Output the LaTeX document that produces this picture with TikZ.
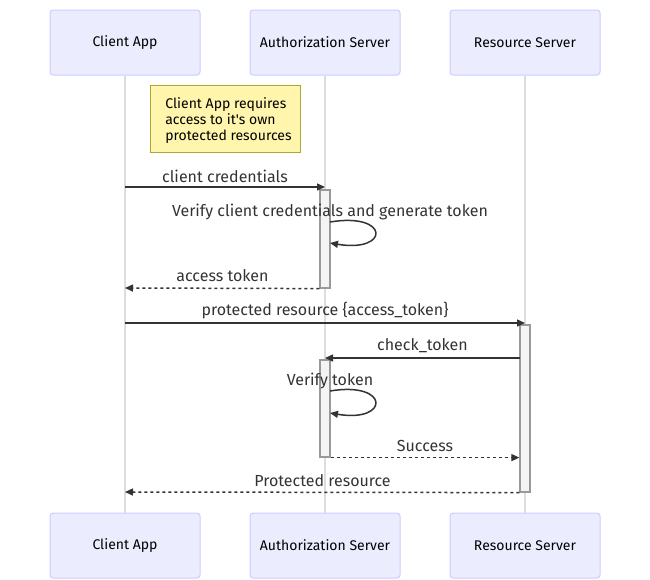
\documentclass[tikz,border=0pt]{standalone}
\usepackage{fontspec}
\setmainfont{Fira Sans}
\usetikzlibrary{arrows.meta}
\definecolor{actfill}{HTML}{ECECFF}
\definecolor{actdraw}{HTML}{CCCCFF}
\definecolor{notefill}{HTML}{FFF5AD}
\definecolor{notedraw}{HTML}{AAAA33}
\definecolor{txt}{HTML}{333333}
\definecolor{life}{HTML}{DDDDDD}
\definecolor{actvfill}{HTML}{F4F4F4}
\definecolor{actvdraw}{HTML}{999999}
\begin{document}
\begin{tikzpicture}[x=1pt,y=-1pt,
  actor/.style={draw=actdraw, fill=actfill, line width=1pt, rounded corners=3pt,
    minimum width=150pt, minimum height=65pt, inner sep=0pt,
    font=\fontsize{14}{16}\selectfont, text=black},
  notebox/.style={draw=notedraw, fill=notefill, line width=1pt,
    minimum width=150pt, minimum height=67pt, inner sep=0pt},
  notetext/.style={align=left, inner sep=0pt,
    font=\fontsize{14}{16}\selectfont, text=black},
  activ/.style={draw=actvdraw, fill=actvfill, line width=1.2pt,
    minimum width=10pt, inner sep=0pt},
  lifeline/.style={draw=life, line width=1.5pt},
  msg/.style={draw=txt, line width=1.5pt, -{Triangle[length=8pt,width=7pt]}},
  reply/.style={msg, dash pattern=on 3pt off 3pt},
  lbl/.style={font=\fontsize{16}{18}\selectfont, text=txt, inner sep=0pt}
]
\useasboundingbox (0,0) rectangle (650,579);

% actors
\node[actor] (ca)  at (125,42.5) {\raisebox{-1pt}{Client App}};
\node[actor] (as)  at (325,42.5) {\raisebox{-1pt}{Authorization Server}};
\node[actor] (rs)  at (525,42.5) {\raisebox{-1pt}{Resource Server}};
\node[actor] (cab) at (125,545.5) {\raisebox{-1pt}{Client App}};
\node[actor] (asb) at (325,545.5) {\raisebox{-1pt}{Authorization Server}};
\node[actor] (rsb) at (525,545.5) {\raisebox{-1pt}{Resource Server}};

% lifelines
\draw[lifeline] (ca.south) -- (cab.north);
\draw[lifeline] (as.south) -- (asb.north);
\draw[lifeline] (rs.south) -- (rsb.north);

% note
\node[notebox, label={[notetext, xshift=3.5pt, yshift=-2.5pt]center:{Client App requires\\access to it\textquotesingle s own\\protected resources}}] (note) at (225,118.5) {};

% activations
\node[activ, minimum height=98pt]  (act1) at (325,239) {};
\node[activ, minimum height=167pt] (act2) at (525,408.5) {};
\node[activ, minimum height=97pt]  (act3) at (325,408.5) {};

% message endpoints
\coordinate (m1s) at (125,187);
\coordinate (m1e) at (325,187);
\coordinate (l1s) at (330,222);
\coordinate (l1e) at (330,243);
\coordinate (m3e) at (125,288);
\coordinate (m4s) at (125,323);
\coordinate (m4e) at (525,323);
\coordinate (m5s) at (520,358);
\coordinate (m5e) at (325,358);
\coordinate (l2s) at (330,391);
\coordinate (l2e) at (330,413);
\coordinate (m8e) at (125,492);

% messages
\draw[msg] (m1s) -- (m1e);
\node[lbl] (t1) at (225,176) {client credentials};

\draw[msg] (l1s) .. controls (390,212) and (390,253) .. (l1e);
\node[lbl] (t2) at (330,212) {Verify client credentials and generate token};

\draw[reply] (act1.south west) -- (m3e);
\node[lbl] (t3) at (222.5,276) {access token};

\draw[msg] (m4s) -- (m4e);
\node[lbl] (t4) at (325,311) {protected resource \{access\_token\}};

\draw[msg] (m5s) -- (m5e);
\node[lbl] (t5) at (422.5,346) {check\_token};

\draw[msg] (l2s) .. controls (390,381) and (390,423) .. (l2e);
\node[lbl] (t6) at (330,381) {Verify token};

\draw[reply] (act3.south east) -- (act2.west |- act3.south east);
\node[lbl] (t7) at (425,446) {Success};

\draw[reply] (act2.south west) -- (m8e);
\node[lbl] (t8) at (322.5,481) {Protected resource};
\end{tikzpicture}
\end{document}
